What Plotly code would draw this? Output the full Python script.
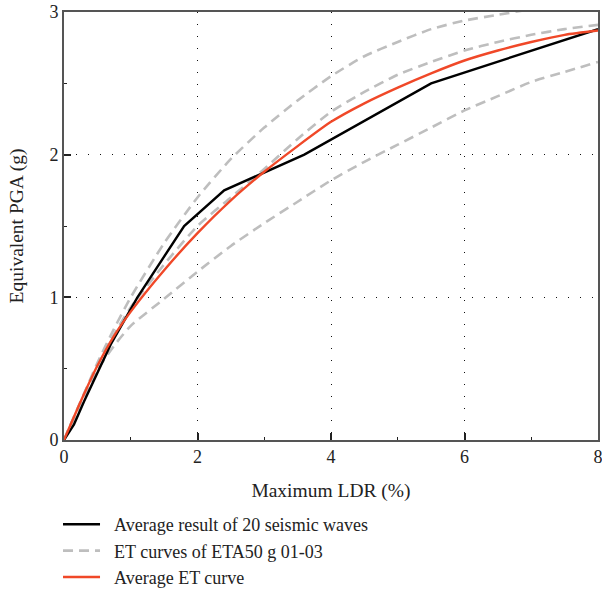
import plotly.graph_objects as go

# Average result of the 20 seismic waves (piecewise-linear)
avg_x = [0, 0.15, 0.3, 0.7, 1.1, 1.45, 1.8, 2.4, 3.6, 5.5, 8.0]
avg_y = [0, 0.11, 0.27, 0.67, 1.0, 1.25, 1.5, 1.75, 2.0, 2.5, 2.88]

# ET curves (sampled)
et_x = [0, 0.25, 0.5, 0.75, 1.0, 1.5, 2.0, 2.5, 3.0, 3.5, 4.0, 4.5, 5.0, 5.5, 6.0, 6.5, 7.0, 7.5, 8.0]
et_01 = [0, 0.27, 0.54, 0.78, 1.0, 1.38, 1.70, 1.97, 2.19, 2.38, 2.55, 2.69, 2.79, 2.88, 2.94, 2.98, 3.02, 3.05, 3.08]
et_02 = [0, 0.27, 0.52, 0.74, 0.93, 1.23, 1.50, 1.70, 1.90, 2.11, 2.30, 2.44, 2.56, 2.65, 2.73, 2.79, 2.84, 2.88, 2.91]
et_03 = [0, 0.26, 0.49, 0.66, 0.80, 0.99, 1.18, 1.36, 1.52, 1.67, 1.82, 1.95, 2.07, 2.19, 2.31, 2.41, 2.51, 2.58, 2.65]
et_mean = [0, 0.27, 0.52, 0.73, 0.90, 1.19, 1.45, 1.68, 1.88, 2.06, 2.23, 2.36, 2.47, 2.57, 2.66, 2.73, 2.79, 2.84, 2.87]

x_ticks = [0, 2, 4, 6, 8]
y_ticks = [0, 1, 2, 3]

SERIF = "Liberation Serif"
GRAY = "rgb(190,190,190)"
RED = "rgb(240,72,40)"
PAD = "\u00a0\u00a0"

fig = go.Figure()

for i, ys in enumerate([et_01, et_02, et_03]):
    fig.add_trace(go.Scatter(
        x=et_x, y=ys, mode="lines",
        line=dict(color=GRAY, width=2.6, dash="10px,6px", shape="spline", smoothing=0.6),
        name=PAD + "ET curves of ETA50 g 01-03", legendgroup="et",
        showlegend=(i == 0), legendrank=2,
    ))

fig.add_trace(go.Scatter(
    x=avg_x, y=avg_y, mode="lines",
    line=dict(color="black", width=2.4),
    name=PAD + "Average result of 20 seismic waves", legendrank=1,
))

fig.add_trace(go.Scatter(
    x=et_x, y=et_mean, mode="lines",
    line=dict(color=RED, width=2.4, shape="spline", smoothing=0.6),
    name=PAD + "Average ET curve", legendrank=3,
))

axis_common = dict(
    showline=True, linecolor="#555", linewidth=1.6, mirror=True,
    ticks="inside", ticklen=7, tickwidth=1.6, tickcolor="#222",
    showgrid=True, gridcolor="#111", gridwidth=1.2, griddash="1.2px,10.8px",
    zeroline=False, automargin=False, ticklabeloverflow="allow",
    tickfont=dict(family=SERIF, size=18, color="#222"),
)

fig.update_xaxes(
    range=[0, 8], tickvals=x_ticks, ticktext=[str(v) for v in x_ticks],
    minor=dict(ticks="inside", ticklen=3, tickwidth=1.4, tickcolor="#222", dtick=1, showgrid=False),
    title=dict(text="Maximum LDR (%)", font=dict(family=SERIF, size=19.5, color="#222"), standoff=17),
    **axis_common,
)
fig.update_yaxes(
    range=[0, 3], tickvals=y_ticks, ticktext=[str(v) for v in y_ticks],
    minor=dict(ticks="inside", ticklen=3, tickwidth=1.4, tickcolor="#222", dtick=0.5, showgrid=False),
    title=dict(text="Equivalent PGA (g)", font=dict(family=SERIF, size=19.5, color="#222"), standoff=21),
    **axis_common,
)

fig.update_layout(
    width=602, height=599,
    margin=dict(l=64, r=4, t=12, b=158),
    paper_bgcolor="white", plot_bgcolor="white",
    showlegend=True,
    legend=dict(
        x=-0.0112, y=-0.1515, xanchor="left", yanchor="top",
        font=dict(family=SERIF, size=18, color="#222"),
        bgcolor="rgba(0,0,0,0)", tracegroupgap=0, itemwidth=37,
    ),
)

fig.write_html("out.html")
